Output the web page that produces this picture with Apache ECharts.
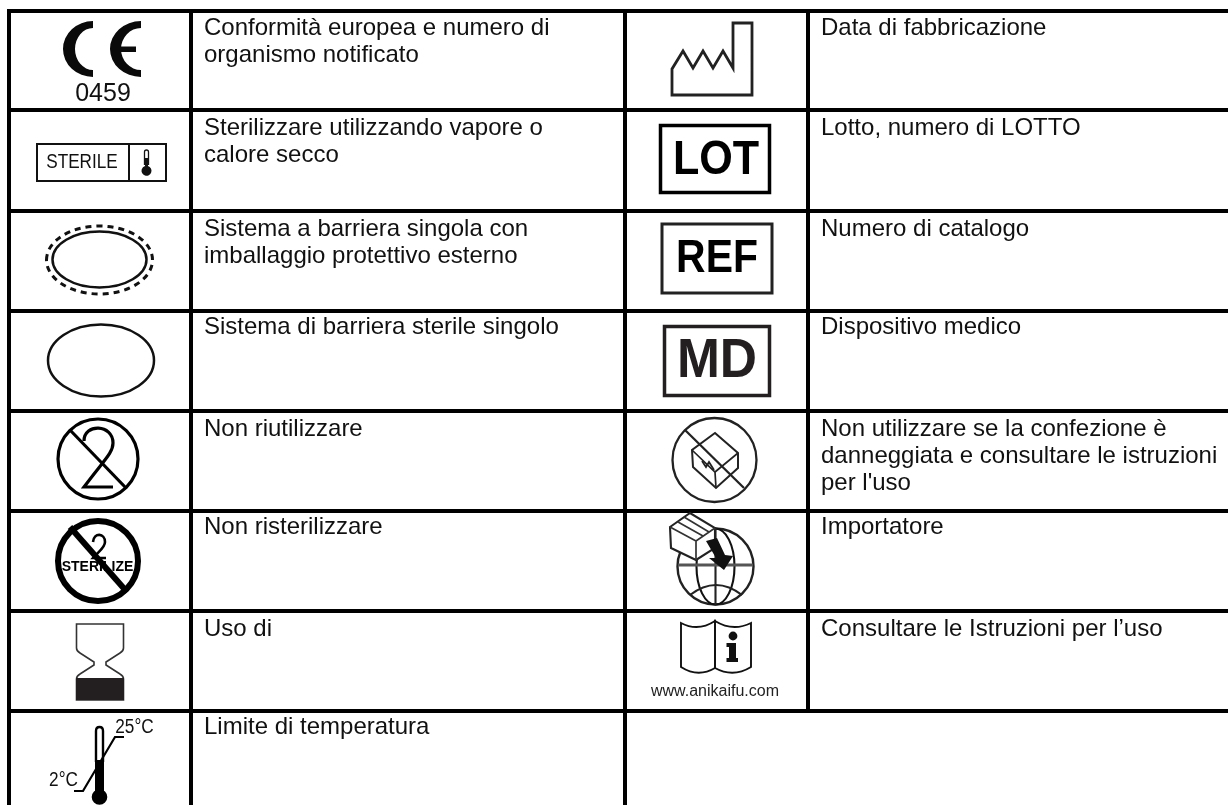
<!DOCTYPE html>
<html>
<head>
<meta charset="utf-8">
<title>Simboli</title>
<style>
html, body { margin: 0; padding: 0; background: #fff; }
#main { width: 1228px; height: 805px; }
</style>
<script src="https://cdn.jsdelivr.net/npm/echarts@6/dist/echarts.min.js"></script>
</head>
<body>
<div id="main"></div>
<script>
// testi delle due colonne
var leftLabels = [
    'Conformità europea e numero di\norganismo notificato',
    'Sterilizzare utilizzando vapore o\ncalore secco',
    'Sistema a barriera singola con\nimballaggio protettivo esterno',
    'Sistema di barriera sterile singolo',
    'Non riutilizzare',
    'Non risterilizzare',
    'Uso di',
    'Limite di temperatura'
];
var rightLabels = [
    'Data di fabbricazione',
    'Lotto, numero di LOTTO',
    'Numero di catalogo',
    'Dispositivo medico',
    'Non utilizzare se la confezione è\ndanneggiata e consultare le istruzioni\nper l\'uso',
    'Importatore',
    'Consultare le Istruzioni per l’uso'
];
var symbolTexts = ['0459', 'STERILE', 'STERILIZE', 'LOT', 'REF', 'MD', 'www.anikaifu.com', '25°C', '2°C'];

// griglia della tabella
var rowLines = [11, 110, 211, 311, 411, 511, 611, 711];
var textTops = [15, 115, 215.5, 314, 416, 513.5, 616, 714];
var colLines = [9, 191, 625, 808];
var FONT = '"Liberation Sans", Arial, sans-serif';
var INK = '#000';
var W = 1228, H = 805;

var elements = [];

function rect(x, y, w, h, fill) {
    elements.push({type: 'rect', shape: {x: x, y: y, width: w, height: h}, style: {fill: fill || INK}});
}
function box(x, y, w, h, lw, color) {
    elements.push({type: 'rect', shape: {x: x, y: y, width: w, height: h}, style: {fill: 'none', stroke: color, lineWidth: lw}});
}
function stroke(d, lw, color) {
    elements.push({type: 'path', shape: {pathData: d}, style: {fill: 'none', stroke: color || INK, lineWidth: lw}});
}
function fill(d, color) {
    elements.push({type: 'path', shape: {pathData: d}, style: {fill: color || INK}});
}
function ring(cx, cy, r, lw, color) {
    elements.push({type: 'circle', shape: {cx: cx, cy: cy, r: r}, style: {fill: 'none', stroke: color || INK, lineWidth: lw}});
}
function oval(cx, cy, rx, ry, lw, dash) {
    elements.push({type: 'ellipse', shape: {cx: cx, cy: cy, rx: rx, ry: ry},
        style: {fill: 'none', stroke: '#111', lineWidth: lw, lineDash: dash || null}});
}
function label(text, x, y, size, opt) {
    opt = opt || {};
    elements.push({
        type: 'text', x: x, y: y, scaleX: opt.sx || 1,
        style: {
            text: text, fill: opt.color || '#111', fontFamily: FONT, fontSize: size,
            fontWeight: opt.bold ? 'bold' : 'normal', lineHeight: opt.lh || size,
            align: opt.align || 'center', verticalAlign: opt.va || 'bottom'
        }
    });
}

// righe e colonne
rowLines.forEach(function (y) { rect(7, y - 2, W - 7, 4); });
rect(colLines[0] - 2, 9, 4, H - 9);
rect(colLines[1] - 2, 9, 4, H - 9);
rect(colLines[2] - 2, 9, 4, H - 9);
rect(colLines[3] - 2, 9, 4, rowLines[7] - 9);

// testi delle celle
leftLabels.forEach(function (t, i) {
    label(t, 204, textTops[i], 24, {align: 'left', va: 'top', lh: 27});
});
rightLabels.forEach(function (t, i) {
    label(t, 821, textTops[i], 24, {align: 'left', va: 'top', lh: 27});
});

// CE
fill('M93 21A30 28 0 0 0 93 77V70A18 21 0 0 1 93 28Z', '#0a0a0a');
fill('M141 21A31 28 0 0 0 141 77V70A20 21 0 0 1 141 28Z', '#0a0a0a');
rect(118, 46.5, 18, 5.5, '#0a0a0a');
label(symbolTexts[0], 103, 107, 25);

// sterile
box(37, 144, 129, 37, 2, '#111');
rect(128, 144, 2, 37, '#111');
label(symbolTexts[1], 82, 172, 19.5, {sx: 0.88});
stroke('M144.5 165V152Q144.5 150 146.5 150Q148.5 150 148.5 152V165', 1.3, '#111');
fill('M145 158H148V166A5 5 0 1 1 145 166Z', '#111');

// ellissi
oval(99.5, 259.5, 47, 28, 2.5);
oval(99.5, 260, 53, 34, 3, [6, 5]);
oval(101, 360.5, 53, 36, 2.5);

// non riutilizzare
ring(98, 459, 40, 3.2);
stroke('M70 430L126 488', 3.2);
stroke('M84 441C84 423 113 424 113 443C113 453 104 460 84 487L113 487', 3.2);

// non risterilizzare
stroke('M93 542C94 532 105 533 105 542C105 548 98 552 93 558L106 558', 2.6);
label(symbolTexts[2], 97.5, 574, 14, {bold: true, color: '#000'});
ring(98, 561, 40, 6);
stroke('M70 527L127 592', 6);

// clessidra
stroke('M76.5 624H123.5V648Q123.5 651 120 653L106 662V665L120 674Q123.5 676 123.5 679V700H76.5V679Q76.5 676 80 674L94 665V662L80 653Q76.5 651 76.5 648Z', 1.6, '#333');
rect(76, 678, 48, 22, '#231f20');

// temperatura
stroke('M96 762V731Q96 727 99.5 727Q103 727 103 731V762', 2.4);
rect(95, 760, 9, 35);
ring(99.5, 797, 3.9, 7.8);
stroke('M124 737H115L83 791H74', 2.2);
label(symbolTexts[7], 134.5, 737, 20, {sx: 0.86});
label(symbolTexts[8], 63.5, 790, 20, {sx: 0.86});

// fabbrica
stroke('M672 95V69L683 51L693 68L703 51L713 68L723 51L733 68V23H752V95Z', 2.8, '#222');

// LOT, REF, MD
box(660.5, 125.5, 109, 67, 3.5, INK);
label(symbolTexts[3], 716, 185, 49, {bold: true, sx: 0.88, color: '#000'});
box(662, 224, 110, 69, 3, '#222');
label(symbolTexts[4], 717, 283, 47, {bold: true, sx: 0.87, color: '#000'});
box(664.5, 326.5, 105, 69, 3.5, '#231f20');
label(symbolTexts[5], 717, 390, 56, {bold: true, sx: 0.92, color: '#231f20'});

// confezione danneggiata
ring(714.5, 460, 42, 2.3, '#222');
stroke('M685 430L744 488', 2.3, '#222');
stroke('M715 433L738 453V468L716 488L693 467L692 450Z', 2, '#222');
stroke('M692 450L715 472L738 453M715 472L716 488', 1.7, '#222');
stroke('M702 461L706 467L709 462L714 470', 1.8, '#222');

// importatore
ring(715.5, 566.5, 38, 2.4, '#222');
oval(715.5, 566.5, 19, 38, 2.1);
stroke('M715.5 528V605', 2.1, '#222');
stroke('M678 565H753', 3.2, '#555');
stroke('M690 595Q716 575 742 595', 2.1, '#222');
elements.push({type: 'path', shape: {pathData: 'M670 527L690 513L715 528V548L696 560L671 548Z'}, style: {fill: '#fff', stroke: '#222', lineWidth: 2.1}});
stroke('M670 527L696 541L715 528M696 541V560M678 522L703 536M684 517L709 532', 1.7, '#333');
fill('M706 541L717 538L725 555L733 556L724 570L709 558L716 558Z', '#111');

// istruzioni
stroke('M681 623Q698 632 715 621V668Q698 678 681 667Z', 1.9, '#111');
stroke('M751 623Q733 632 715 621V668Q733 678 751 667Z', 1.9, '#111');
ring(733, 636, 2.2, 4.4, '#111');
fill('M726.5 643H736V658H738V662H726.5V658H729V647H726.5Z', '#111');
label(symbolTexts[6], 715, 700, 16, {color: '#222'});

var chart = echarts.init(document.getElementById('main'));
chart.setOption({
    animation: false,
    backgroundColor: '#fff',
    series: [{
        type: 'custom',
        coordinateSystem: 'none',
        silent: true,
        data: elements.map(function (el, i) { return i; }),
        renderItem: function (params) {
            return elements[params.dataIndex];
        }
    }]
});
</script>
</body>
</html>
